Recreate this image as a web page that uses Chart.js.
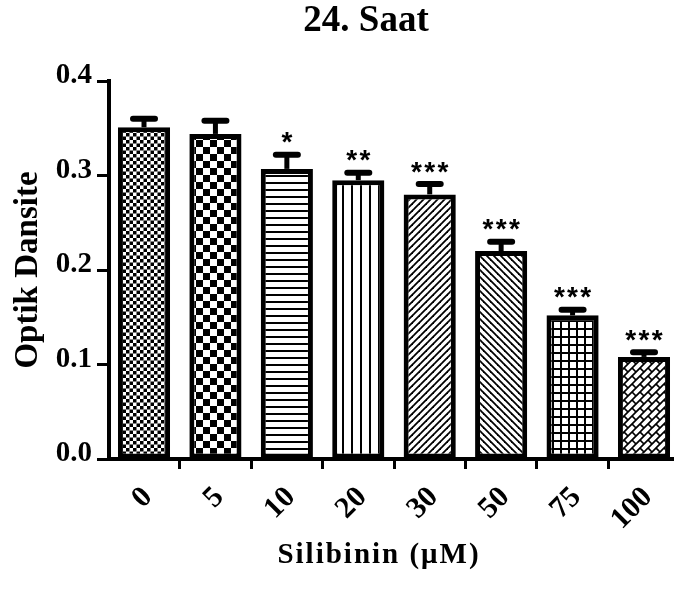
<!DOCTYPE html>
<html>
<head>
<meta charset="utf-8">
<script src="https://cdn.jsdelivr.net/npm/chart.js@4"></script>
<style>
  body { margin: 0; background: #fff; }
  canvas { display: block; }
</style>
</head>
<body>
<canvas id="grafico" width="674" height="596"></canvas>
<script>
// Silibinin dozu (uM)
const dozlar = ["0", "5", "10", "20", "30", "50", "75", "100"];
// Optik dansite ortalamalari
const degerler = [0.351, 0.344, 0.307, 0.295, 0.280, 0.220, 0.152, 0.108];
// standart hata (ust)
const hatalar = [0.009, 0.014, 0.015, 0.008, 0.011, 0.010, 0.006, 0.005];
// anlamlilik
const yildizlar = ["", "", "*", "**", "***", "***", "***", "***"];
const yTikler = [0.0, 0.1, 0.2, 0.3, 0.4];

const serif = "'Liberation Serif', 'Times New Roman', serif";

function desen(w, h, ciz) {
  const c = document.createElement("canvas");
  c.width = w;
  c.height = h;
  const g = c.getContext("2d");
  g.fillStyle = "#fff";
  g.fillRect(0, 0, w, h);
  g.fillStyle = "#000";
  g.strokeStyle = "#000";
  ciz(g, w, h);
  return document.getElementById("grafico").getContext("2d").createPattern(c, "repeat");
}

function cizgi(g, x1, y1, x2, y2) {
  g.beginPath();
  g.moveTo(x1, y1);
  g.lineTo(x2, y2);
  g.stroke();
}

const desenler = [
  // ince dama
  desen(7, 7, (g) => { g.fillRect(0, 0, 3.5, 3.5); g.fillRect(3.5, 3.5, 3.5, 3.5); }),
  // kalin dama
  desen(14, 14, (g) => { g.fillRect(0, 0, 7, 7); g.fillRect(7, 7, 7, 7); }),
  // yatay
  desen(7, 7, (g) => { g.fillRect(0, 0, 7, 2); }),
  // dikey
  desen(9, 9, (g) => { g.fillRect(0, 0, 2, 9); }),
  // egik /
  desen(7, 7, (g) => {
    g.lineWidth = 1.8;
    cizgi(g, -1, 8, 8, -1);
    cizgi(g, -1, 1, 1, -1);
    cizgi(g, 6, 8, 8, 6);
  }),
  // egik \
  desen(7, 7, (g) => {
    g.lineWidth = 1.8;
    cizgi(g, -1, -1, 8, 8);
    cizgi(g, 6, -1, 8, 1);
    cizgi(g, -1, 6, 1, 8);
  }),
  // kareli
  desen(8, 8, (g) => { g.fillRect(0, 0, 8, 2); g.fillRect(0, 0, 2, 8); }),
  // tugla
  desen(16, 16, (g) => {
    g.lineWidth = 1.7;
    for (let c = -16; c <= 48; c += 8) cizgi(g, c + 2, -2, c - 18, 18);
    for (let k = -4; k <= 8; k++) {
      for (let j = -4; j <= 6; j++) {
        const x = 4 * k + 8 * j + 4 * (((k % 2) + 2) % 2);
        const y = 4 * k - 8 * j - 4 * (((k % 2) + 2) % 2);
        cizgi(g, x, y, x + 4, y + 4);
      }
    }
  }),
];

const ekler = {
  id: "ekler",
  afterDatasetsDraw(chart) {
    const ctx = chart.ctx;
    const y = chart.scales.y;
    const bars = chart.getDatasetMeta(0).data;
    ctx.save();
    ctx.strokeStyle = "#000";
    bars.forEach((bar, i) => {
      const yCap = y.getPixelForValue(degerler[i] + hatalar[i]);
      ctx.lineWidth = 5;
      ctx.beginPath();
      ctx.moveTo(bar.x, bar.y);
      ctx.lineTo(bar.x, yCap);
      ctx.stroke();
      ctx.lineWidth = 6;
      ctx.lineCap = "round";
      ctx.beginPath();
      ctx.moveTo(bar.x - 11, yCap);
      ctx.lineTo(bar.x + 11, yCap);
      ctx.stroke();
      ctx.lineCap = "butt";

      const s = yildizlar[i];
      if (s) {
        ctx.font = "bold 28px 'Liberation Sans', Arial, sans-serif";
        ctx.fillStyle = "#000";
        ctx.textAlign = "center";
        ctx.textBaseline = "alphabetic";
        const m = ctx.measureText("*");
        const orta = (m.actualBoundingBoxAscent - m.actualBoundingBoxDescent) / 2;
        const cy = yCap - 17 + orta;
        const ara = 13.2;
        for (let k = 0; k < s.length; k++) {
          ctx.fillText("*", bar.x + (k - (s.length - 1) / 2) * ara, cy);
        }
      }
    });
    ctx.restore();
  },
  afterDraw(chart) {
    const ctx = chart.ctx;
    ctx.save();
    ctx.fillStyle = "#000";
    ctx.textAlign = "center";
    ctx.textBaseline = "alphabetic";
    ctx.font = "bold 37px " + serif;
    ctx.fillText("24. Saat", 366, 31);

    ctx.font = "bold 29px " + serif;
    ctx.letterSpacing = "2px";
    ctx.fillText("Silibinin (\u03BCM)", 379, 563);
    ctx.letterSpacing = "0px";

    ctx.translate(37, 270);
    ctx.rotate(-Math.PI / 2);
    ctx.font = "bold 33px " + serif;
    ctx.fillText("Optik Dansite", 0, 0);
    ctx.restore();
  },
};

new Chart(document.getElementById("grafico"), {
  type: "bar",
  data: {
    datasets: [
      {
        data: degerler.map((v, i) => ({ x: i, y: v })),
        backgroundColor: desenler,
        borderColor: "#000",
        borderWidth: 5,
        borderSkipped: false,
        barPercentage: 0.73,
        categoryPercentage: 1,
      },
    ],
  },
  options: {
    responsive: false,
    animation: false,
    layout: { padding: { top: 81, right: 0, left: 0, bottom: 0 } },
    plugins: {
      legend: { display: false },
      tooltip: { enabled: false },
      title: { display: false },
    },
    scales: {
      x: {
        type: "linear",
        offset: false,
        min: -0.49,
        max: 7.42,
        afterFit: (s) => {
          s.height = 137;
          s.paddingLeft = 0;
          s.paddingRight = 0;
        },
        afterBuildTicks: (s) => { s.ticks = dozlar.map((d, i) => ({ value: i })); },
        grid: { drawOnChartArea: false, tickLength: 10, tickWidth: 3, tickColor: "#000" },
        border: { width: 4, color: "#000" },
        ticks: {
          color: "#000",
          font: { family: serif, size: 30, weight: "bold" },
          minRotation: 45,
          maxRotation: 45,
          autoSkip: false,
          padding: 11,
          labelOffset: 4,
          callback: (v) => dozlar[v],
        },
      },
      y: {
        min: 0,
        max: 0.4,
        afterFit: (s) => { s.width = 109; },
        afterBuildTicks: (s) => { s.ticks = yTikler.map((v) => ({ value: v })); },
        grid: { drawOnChartArea: false, tickLength: 12, tickWidth: 3, tickColor: "#000" },
        border: { width: 4, color: "#000" },
        ticks: {
          color: "#000",
          font: { family: serif, size: 29, weight: "bold" },
          padding: 5,
          labelOffset: -5,
          callback: (v) => Number(v).toFixed(1),
        },
      },
    },
  },
  plugins: [ekler],
});
</script>
</body>
</html>
